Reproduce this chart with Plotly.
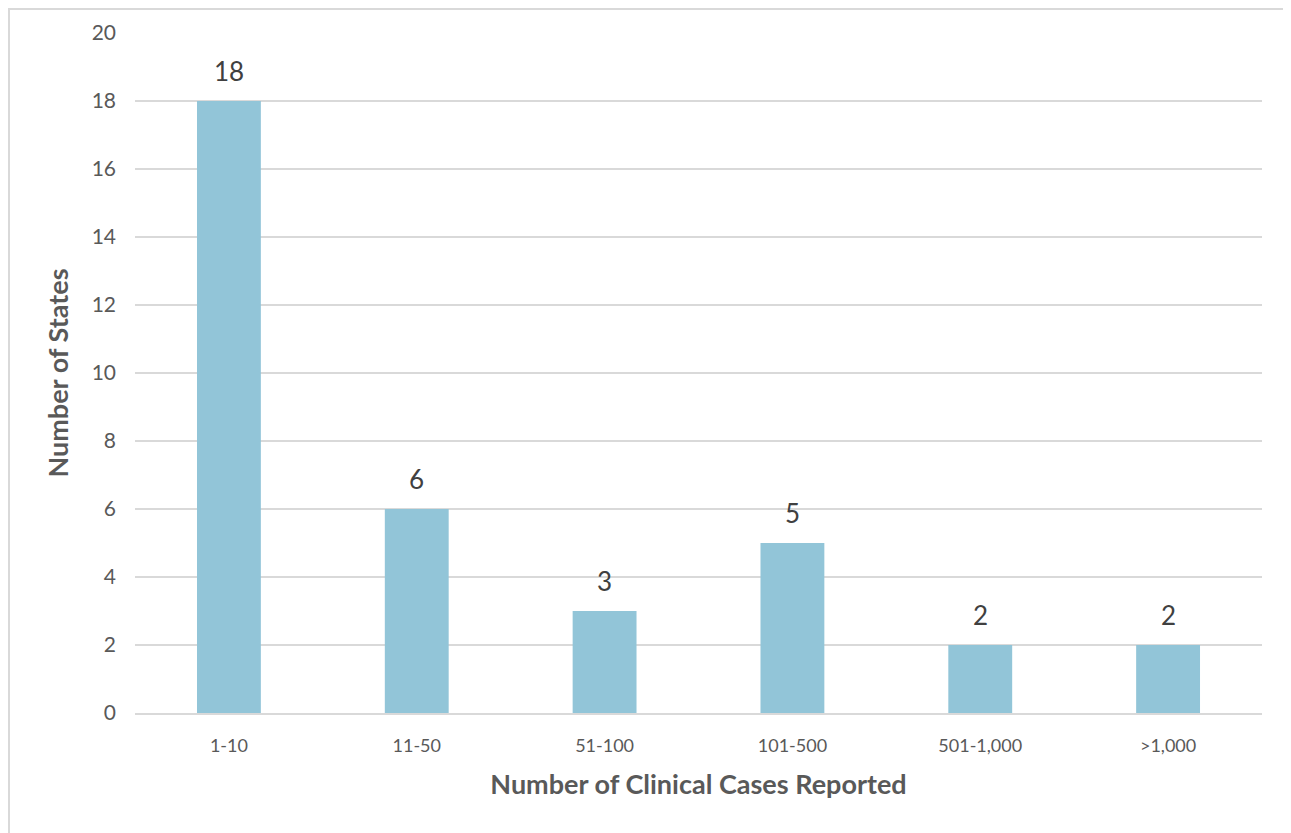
import plotly.graph_objects as go

categories = ["1-10", "11-50", "51-100", "101-500", "501-1,000", ">1,000"]
values = [18, 6, 3, 5, 2, 2]
y_ticks = [0, 2, 4, 6, 8, 10, 12, 14, 16, 18, 20]

FONT = "Lato, 'Open Sans', sans-serif"

# page body has an 8px margin, so the figure starts at (8, 8)
W, H = 1283, 825
L, R, T, B = 127, 29, 25, 120
PW, PH = W - L - R, H - T - B

fig = go.Figure()
fig.add_trace(go.Bar(
    x=categories, y=values,
    marker=dict(color="#92C5D8", line=dict(width=0)),
    hoverinfo="x+y",
))

for c, v in zip(categories, values):
    fig.add_annotation(
        x=c, y=v, text=str(v), showarrow=False,
        yanchor="bottom", yshift=12,
        font=dict(family=FONT, size=26, color="#404040"),
    )

fig.update_layout(
    width=W, height=H,
    margin=dict(l=L, r=R, t=T, b=B),
    paper_bgcolor="white", plot_bgcolor="white",
    bargap=0.66,
    showlegend=False,
    font=dict(family=FONT, color="#595959"),
    xaxis=dict(
        title=dict(text="<b>Number of Clinical Cases Reported</b>",
                   font=dict(family=FONT, size=27, color="#595959"), standoff=21),
        tickfont=dict(family=FONT, size=18, color="#595959"),
        ticklabelstandoff=15,
        showline=True, linecolor="#D9D9D9", linewidth=2,
        ticks="", showgrid=False,
    ),
    yaxis=dict(
        title=dict(text="<b>Number of States</b>",
                   font=dict(family=FONT, size=27, color="#595959"), standoff=15),
        tickfont=dict(family=FONT, size=21, color="#595959"),
        ticklabelstandoff=18,
        range=[0, 20], tickvals=y_ticks,
        showgrid=True, gridcolor="#D9D9D9", gridwidth=2,
        zeroline=False, showline=False, ticks="", ticklen=0,
    ),
    shapes=[dict(type="rect", xref="paper", yref="paper",
                 x0=-(L - 1) / PW, x1=(PW + R - 1) / PW,
                 y0=-(B + 20) / PH, y1=(PH + T - 1) / PH,
                 line=dict(color="#D9D9D9", width=2), layer="below")],
)

fig.write_html("out.html")
